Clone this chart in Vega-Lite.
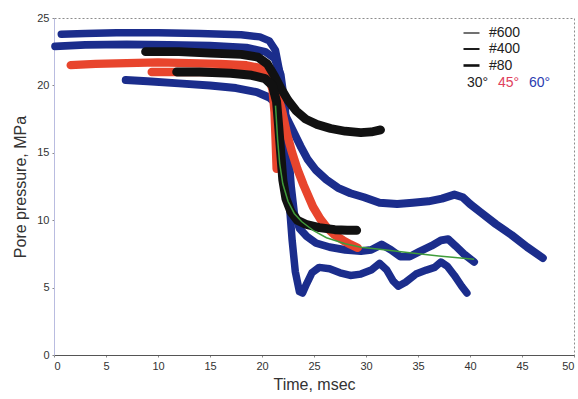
{
  "$schema": "https://vega.github.io/schema/vega-lite/v6.json",
  "width": 520,
  "height": 337,
  "autosize": "none",
  "padding": {"left": 54, "top": 18, "right": 4, "bottom": 44},
  "background": "white",
  "config": {
    "font": "Liberation Sans",
    "view": {"stroke": "#8c8c8c", "strokeDash": [2, 2], "strokeWidth": 1},
    "axis": {
      "grid": false,
      "labelFont": "Liberation Sans",
      "labelFontSize": 11,
      "labelColor": "#333333",
      "titleFont": "Liberation Sans",
      "titleFontSize": 16,
      "titleFontWeight": "normal",
      "titleColor": "#333333",
      "tickSize": 2,
      "tickColor": "#888888",
      "labelPadding": 3
    },
    "legend": {"labelFont": "Liberation Sans", "labelFontSize": 14, "padding": 0}
  },
  "datasets": {
    "curves": [
      {"series": "60-a", "angle": "60°", "t": 0.7, "p": 23.8},
      {"series": "60-a", "angle": "60°", "t": 3, "p": 23.85},
      {"series": "60-a", "angle": "60°", "t": 6, "p": 23.9},
      {"series": "60-a", "angle": "60°", "t": 10, "p": 23.9},
      {"series": "60-a", "angle": "60°", "t": 14, "p": 23.85},
      {"series": "60-a", "angle": "60°", "t": 18, "p": 23.75},
      {"series": "60-a", "angle": "60°", "t": 19.8, "p": 23.6},
      {"series": "60-a", "angle": "60°", "t": 20.7, "p": 23.3},
      {"series": "60-a", "angle": "60°", "t": 21.3, "p": 22.6},
      {"series": "60-a", "angle": "60°", "t": 21.7, "p": 21.0},
      {"series": "60-a", "angle": "60°", "t": 22.0, "p": 18.5},
      {"series": "60-a", "angle": "60°", "t": 22.3, "p": 15.0},
      {"series": "60-a", "angle": "60°", "t": 22.6, "p": 11.5},
      {"series": "60-a", "angle": "60°", "t": 22.9, "p": 8.5},
      {"series": "60-a", "angle": "60°", "t": 23.2, "p": 6.2},
      {"series": "60-a", "angle": "60°", "t": 23.6, "p": 4.7},
      {"series": "60-a", "angle": "60°", "t": 23.9, "p": 4.6},
      {"series": "60-a", "angle": "60°", "t": 24.3, "p": 5.3},
      {"series": "60-a", "angle": "60°", "t": 24.8, "p": 6.1},
      {"series": "60-a", "angle": "60°", "t": 25.5, "p": 6.5},
      {"series": "60-a", "angle": "60°", "t": 26.5, "p": 6.4},
      {"series": "60-a", "angle": "60°", "t": 27.5, "p": 6.1},
      {"series": "60-a", "angle": "60°", "t": 28.5, "p": 5.9},
      {"series": "60-a", "angle": "60°", "t": 29.5, "p": 6.0},
      {"series": "60-a", "angle": "60°", "t": 30.5, "p": 6.3},
      {"series": "60-a", "angle": "60°", "t": 31.3, "p": 6.8},
      {"series": "60-a", "angle": "60°", "t": 32.0, "p": 6.3},
      {"series": "60-a", "angle": "60°", "t": 32.6, "p": 5.5},
      {"series": "60-a", "angle": "60°", "t": 33.1, "p": 5.1},
      {"series": "60-a", "angle": "60°", "t": 33.8, "p": 5.4},
      {"series": "60-a", "angle": "60°", "t": 34.8, "p": 6.0},
      {"series": "60-a", "angle": "60°", "t": 35.8, "p": 6.3},
      {"series": "60-a", "angle": "60°", "t": 36.6, "p": 6.5},
      {"series": "60-a", "angle": "60°", "t": 37.2, "p": 6.9},
      {"series": "60-a", "angle": "60°", "t": 37.8, "p": 6.6},
      {"series": "60-a", "angle": "60°", "t": 38.5, "p": 5.9},
      {"series": "60-a", "angle": "60°", "t": 39.2, "p": 5.1},
      {"series": "60-a", "angle": "60°", "t": 39.7, "p": 4.6},

      {"series": "60-b", "angle": "60°", "t": 0.1, "p": 22.9},
      {"series": "60-b", "angle": "60°", "t": 3, "p": 23.0},
      {"series": "60-b", "angle": "60°", "t": 7, "p": 23.05},
      {"series": "60-b", "angle": "60°", "t": 11, "p": 23.0},
      {"series": "60-b", "angle": "60°", "t": 15, "p": 22.95},
      {"series": "60-b", "angle": "60°", "t": 18.5, "p": 22.8},
      {"series": "60-b", "angle": "60°", "t": 20.3, "p": 22.5},
      {"series": "60-b", "angle": "60°", "t": 21.2, "p": 22.0},
      {"series": "60-b", "angle": "60°", "t": 21.8, "p": 20.8},
      {"series": "60-b", "angle": "60°", "t": 22.2, "p": 18.5},
      {"series": "60-b", "angle": "60°", "t": 22.5, "p": 15.5},
      {"series": "60-b", "angle": "60°", "t": 22.8, "p": 12.5},
      {"series": "60-b", "angle": "60°", "t": 23.1, "p": 10.5},
      {"series": "60-b", "angle": "60°", "t": 23.6, "p": 9.4},
      {"series": "60-b", "angle": "60°", "t": 24.3, "p": 8.8},
      {"series": "60-b", "angle": "60°", "t": 25.2, "p": 8.3},
      {"series": "60-b", "angle": "60°", "t": 26.5, "p": 8.0},
      {"series": "60-b", "angle": "60°", "t": 28, "p": 7.8},
      {"series": "60-b", "angle": "60°", "t": 29.5, "p": 7.7},
      {"series": "60-b", "angle": "60°", "t": 30.5, "p": 7.8},
      {"series": "60-b", "angle": "60°", "t": 31.5, "p": 8.2},
      {"series": "60-b", "angle": "60°", "t": 32.4, "p": 7.8},
      {"series": "60-b", "angle": "60°", "t": 33.3, "p": 7.3},
      {"series": "60-b", "angle": "60°", "t": 34.2, "p": 7.3},
      {"series": "60-b", "angle": "60°", "t": 35.2, "p": 7.7},
      {"series": "60-b", "angle": "60°", "t": 36.3, "p": 8.1},
      {"series": "60-b", "angle": "60°", "t": 37.2, "p": 8.5},
      {"series": "60-b", "angle": "60°", "t": 37.9, "p": 8.6},
      {"series": "60-b", "angle": "60°", "t": 38.6, "p": 8.1},
      {"series": "60-b", "angle": "60°", "t": 39.4, "p": 7.5},
      {"series": "60-b", "angle": "60°", "t": 40.4, "p": 6.9},

      {"series": "60-c", "angle": "60°", "t": 6.9, "p": 20.4},
      {"series": "60-c", "angle": "60°", "t": 9, "p": 20.3},
      {"series": "60-c", "angle": "60°", "t": 12, "p": 20.15},
      {"series": "60-c", "angle": "60°", "t": 15, "p": 20.0},
      {"series": "60-c", "angle": "60°", "t": 17.5, "p": 19.8},
      {"series": "60-c", "angle": "60°", "t": 19.5, "p": 19.5},
      {"series": "60-c", "angle": "60°", "t": 20.7, "p": 19.1},
      {"series": "60-c", "angle": "60°", "t": 21.6, "p": 18.5},
      {"series": "60-c", "angle": "60°", "t": 22.3, "p": 17.7},
      {"series": "60-c", "angle": "60°", "t": 23.0, "p": 16.6},
      {"series": "60-c", "angle": "60°", "t": 23.7, "p": 15.5},
      {"series": "60-c", "angle": "60°", "t": 24.4, "p": 14.5},
      {"series": "60-c", "angle": "60°", "t": 25.2, "p": 13.7},
      {"series": "60-c", "angle": "60°", "t": 26.2, "p": 13.0},
      {"series": "60-c", "angle": "60°", "t": 27.3, "p": 12.4},
      {"series": "60-c", "angle": "60°", "t": 28.5, "p": 12.0},
      {"series": "60-c", "angle": "60°", "t": 29.8, "p": 11.7},
      {"series": "60-c", "angle": "60°", "t": 31.3, "p": 11.3},
      {"series": "60-c", "angle": "60°", "t": 33, "p": 11.2},
      {"series": "60-c", "angle": "60°", "t": 34.5, "p": 11.3},
      {"series": "60-c", "angle": "60°", "t": 36, "p": 11.4},
      {"series": "60-c", "angle": "60°", "t": 37.3, "p": 11.6},
      {"series": "60-c", "angle": "60°", "t": 38.5, "p": 11.9},
      {"series": "60-c", "angle": "60°", "t": 39.3, "p": 11.7},
      {"series": "60-c", "angle": "60°", "t": 40, "p": 11.2},
      {"series": "60-c", "angle": "60°", "t": 41, "p": 10.6},
      {"series": "60-c", "angle": "60°", "t": 42.5, "p": 9.7},
      {"series": "60-c", "angle": "60°", "t": 44, "p": 8.9},
      {"series": "60-c", "angle": "60°", "t": 45.5, "p": 8.0},
      {"series": "60-c", "angle": "60°", "t": 47, "p": 7.2},

      {"series": "45-a", "angle": "45°", "t": 1.6, "p": 21.5},
      {"series": "45-a", "angle": "45°", "t": 4, "p": 21.6},
      {"series": "45-a", "angle": "45°", "t": 7, "p": 21.65},
      {"series": "45-a", "angle": "45°", "t": 10, "p": 21.7},
      {"series": "45-a", "angle": "45°", "t": 13, "p": 21.65},
      {"series": "45-a", "angle": "45°", "t": 16, "p": 21.6},
      {"series": "45-a", "angle": "45°", "t": 18.5, "p": 21.5},
      {"series": "45-a", "angle": "45°", "t": 19.8, "p": 21.3},
      {"series": "45-a", "angle": "45°", "t": 20.6, "p": 20.7},
      {"series": "45-a", "angle": "45°", "t": 21.0, "p": 19.7},
      {"series": "45-a", "angle": "45°", "t": 21.2, "p": 18.0},
      {"series": "45-a", "angle": "45°", "t": 21.3, "p": 16.0},
      {"series": "45-a", "angle": "45°", "t": 21.4, "p": 13.8},

      {"series": "45-b", "angle": "45°", "t": 9.4, "p": 21.0},
      {"series": "45-b", "angle": "45°", "t": 11.6, "p": 21.0},
      {"series": "45-b", "angle": "45°", "t": 14, "p": 21.0},
      {"series": "45-b", "angle": "45°", "t": 17, "p": 21.0},
      {"series": "45-b", "angle": "45°", "t": 19.5, "p": 20.9},
      {"series": "45-b", "angle": "45°", "t": 20.6, "p": 20.6},
      {"series": "45-b", "angle": "45°", "t": 21.3, "p": 19.8},
      {"series": "45-b", "angle": "45°", "t": 21.9, "p": 18.2},
      {"series": "45-b", "angle": "45°", "t": 22.4, "p": 16.4},
      {"series": "45-b", "angle": "45°", "t": 22.9, "p": 15.0},
      {"series": "45-b", "angle": "45°", "t": 23.4, "p": 13.8},
      {"series": "45-b", "angle": "45°", "t": 24.0, "p": 12.6},
      {"series": "45-b", "angle": "45°", "t": 24.9, "p": 11.0},
      {"series": "45-b", "angle": "45°", "t": 25.6, "p": 10.1},
      {"series": "45-b", "angle": "45°", "t": 26.3, "p": 9.4},
      {"series": "45-b", "angle": "45°", "t": 27.0, "p": 8.9},
      {"series": "45-b", "angle": "45°", "t": 27.8, "p": 8.5},
      {"series": "45-b", "angle": "45°", "t": 28.5, "p": 8.2},
      {"series": "45-b", "angle": "45°", "t": 29.2, "p": 7.95},

      {"series": "30-a", "angle": "30°", "t": 8.8, "p": 22.5},
      {"series": "30-a", "angle": "30°", "t": 12, "p": 22.5},
      {"series": "30-a", "angle": "30°", "t": 15, "p": 22.4},
      {"series": "30-a", "angle": "30°", "t": 18, "p": 22.3},
      {"series": "30-a", "angle": "30°", "t": 19.6, "p": 22.1},
      {"series": "30-a", "angle": "30°", "t": 20.5, "p": 21.6},
      {"series": "30-a", "angle": "30°", "t": 21.2, "p": 20.7},
      {"series": "30-a", "angle": "30°", "t": 21.8, "p": 19.8},
      {"series": "30-a", "angle": "30°", "t": 22.5, "p": 18.9},
      {"series": "30-a", "angle": "30°", "t": 23.3, "p": 18.1},
      {"series": "30-a", "angle": "30°", "t": 24.2, "p": 17.5},
      {"series": "30-a", "angle": "30°", "t": 25.3, "p": 17.1},
      {"series": "30-a", "angle": "30°", "t": 26.6, "p": 16.8},
      {"series": "30-a", "angle": "30°", "t": 28, "p": 16.6},
      {"series": "30-a", "angle": "30°", "t": 29.5, "p": 16.5},
      {"series": "30-a", "angle": "30°", "t": 30.5, "p": 16.55},
      {"series": "30-a", "angle": "30°", "t": 31.4, "p": 16.7},

      {"series": "30-b", "angle": "30°", "t": 11.8, "p": 21.0},
      {"series": "30-b", "angle": "30°", "t": 14, "p": 21.0},
      {"series": "30-b", "angle": "30°", "t": 17, "p": 20.9},
      {"series": "30-b", "angle": "30°", "t": 19, "p": 20.75},
      {"series": "30-b", "angle": "30°", "t": 20.3, "p": 20.5},
      {"series": "30-b", "angle": "30°", "t": 21.0, "p": 20.0},
      {"series": "30-b", "angle": "30°", "t": 21.4, "p": 18.8},
      {"series": "30-b", "angle": "30°", "t": 21.6, "p": 17.0},
      {"series": "30-b", "angle": "30°", "t": 21.8, "p": 15.0},
      {"series": "30-b", "angle": "30°", "t": 22.0, "p": 13.0},
      {"series": "30-b", "angle": "30°", "t": 22.3, "p": 11.6},
      {"series": "30-b", "angle": "30°", "t": 22.8, "p": 10.6},
      {"series": "30-b", "angle": "30°", "t": 23.4, "p": 10.0},
      {"series": "30-b", "angle": "30°", "t": 24.2, "p": 9.7},
      {"series": "30-b", "angle": "30°", "t": 25.5, "p": 9.45},
      {"series": "30-b", "angle": "30°", "t": 27, "p": 9.3},
      {"series": "30-b", "angle": "30°", "t": 28.2, "p": 9.25},
      {"series": "30-b", "angle": "30°", "t": 29.1, "p": 9.25}
    ],
    "fit": [
      {"t": 21.3, "p": 18.5},
      {"t": 21.5, "p": 16.0},
      {"t": 21.7, "p": 14.2},
      {"t": 22.0, "p": 12.7},
      {"t": 22.5, "p": 11.4},
      {"t": 23.1, "p": 10.5},
      {"t": 23.8, "p": 9.9},
      {"t": 25.0, "p": 9.2},
      {"t": 26.2, "p": 8.7},
      {"t": 28.0, "p": 8.25},
      {"t": 29.5, "p": 8.0},
      {"t": 31.3, "p": 7.85},
      {"t": 34.0, "p": 7.6},
      {"t": 37.0, "p": 7.35},
      {"t": 40.4, "p": 7.1}
    ],
    "meshes": [
      {"mesh": "#600"},
      {"mesh": "#400"},
      {"mesh": "#80"}
    ]
  },
  "encoding": {
    "x": {
      "field": "t", "type": "quantitative",
      "scale": {"domain": [0, 50], "nice": false, "zero": false},
      "axis": {"title": "Time, msec", "values": [0, 5, 10, 15, 20, 25, 30, 35, 40, 45, 50], "domainColor": "#555555", "titlePadding": 5}
    },
    "y": {
      "field": "p", "type": "quantitative",
      "scale": {"domain": [0, 25], "nice": false, "zero": false},
      "axis": {"title": "Pore pressure, MPa", "values": [0, 5, 10, 15, 20, 25], "domainColor": "#b9bce0", "titlePadding": 8}
    }
  },
  "layer": [
    {
      "data": {"name": "curves"},
      "encoding": {
        "color": {
          "field": "angle", "type": "nominal",
          "scale": {"domain": ["30°", "45°", "60°"], "range": ["#111111", "#e8452d", "#1b2d8c"]},
          "legend": {
            "title": null,
            "orient": "none",
            "direction": "horizontal",
            "legendX": 414,
            "legendY": 58,
            "symbolType": "circle",
            "symbolSize": 1,
            "symbolOpacity": 0,
            "symbolStrokeWidth": 0,
            "labelOffset": -15,
            "columnPadding": 9,
            "labelFontSize": 14,
            "encode": {"labels": {"update": {"fill": {"signal": "datum.value === '45°' ? '#e0405c' : datum.value === '60°' ? '#2a3cb0' : '#222222'"}}}}
          }
        },
        "strokeWidth": {
          "field": "series", "type": "ordinal",
          "scale": {"domain": ["60-a", "60-b", "60-c", "45-a", "45-b", "30-a", "30-b"], "range": [7.5, 9, 11, 10, 6.5, 10, 10]},
          "legend": null
        },
        "detail": {"field": "series"}
      },
      "layer": [
        {"transform": [{"filter": {"field": "angle", "equal": "60°"}}], "mark": {"type": "line", "strokeCap": "round", "strokeJoin": "round"}},
        {"transform": [{"filter": {"field": "angle", "equal": "45°"}}], "mark": {"type": "line", "strokeCap": "round", "strokeJoin": "round"}},
        {"transform": [{"filter": {"field": "angle", "equal": "30°"}}], "mark": {"type": "line", "strokeCap": "round", "strokeJoin": "round"}}
      ]
    },
    {
      "data": {"name": "fit"},
      "mark": {"type": "line", "color": "#3f9c3a", "strokeWidth": 1.5}
    },
    {
      "data": {"name": "meshes"},
      "mark": {"type": "line", "color": "#111111"},
      "encoding": {
        "strokeWidth": {
          "field": "mesh", "type": "ordinal",
          "scale": {"domain": ["#600", "#400", "#80"], "range": [1.2, 2.6, 4.2]},
          "legend": {
            "title": null,
            "orient": "none",
            "legendX": 408,
            "legendY": 6,
            "symbolType": "stroke",
            "symbolSize": 256,
            "symbolStrokeColor": "#111111",
            "labelOffset": 8,
            "rowPadding": 0,
            "labelFontSize": 14,
            "labelColor": "#222222"
          }
        }
      }
    }
  ],
  "resolve": {"scale": {"strokeWidth": "independent"}}
}
